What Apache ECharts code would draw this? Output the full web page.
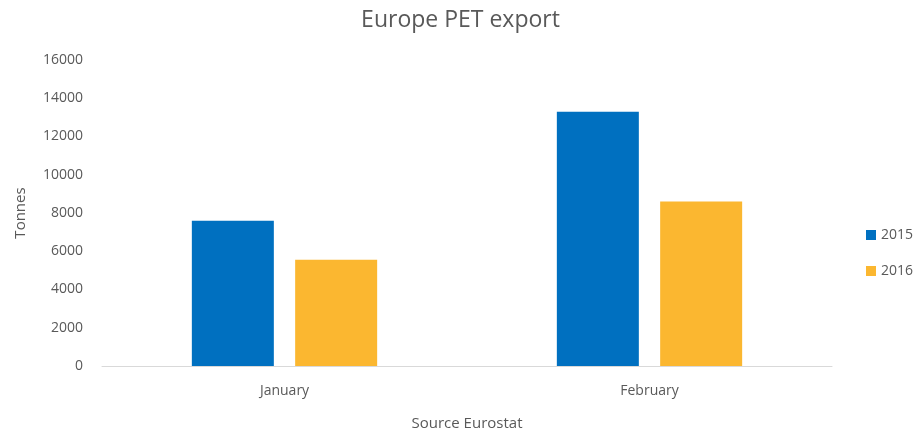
<!DOCTYPE html>
<html>
<head>
<meta charset="utf-8">
<script src="https://cdn.jsdelivr.net/npm/echarts@6/dist/echarts.min.js"></script>
<style>
  html, body { margin: 0; padding: 0; background: #fff; }
  #chart { width: 921px; height: 436px; }
</style>
</head>
<body>
<div id="chart"></div>
<script>
var months = ['January', 'February'];
var y2015 = [7600, 13300];
var y2016 = [5550, 8600];

var chart = echarts.init(document.getElementById('chart'));
var txt = '#595959';
var font = '"Open Sans", "Liberation Sans", sans-serif';

chart.setOption({
  animation: false,
  textStyle: { fontFamily: font },
  title: {
    text: 'Europe PET export',
    left: 'center',
    top: 4,
    textStyle: { fontSize: 23, fontWeight: 'normal', color: txt, fontFamily: font }
  },
  legend: {
    orient: 'vertical',
    left: 861,
    top: 223,
    itemWidth: 10,
    itemHeight: 10,
    itemGap: 22,
    icon: 'rect',
    textStyle: { fontSize: 14, color: txt },
    data: ['2015', '2016']
  },
  grid: { left: 102, right: 89, top: 60, bottom: 69 },
  xAxis: {
    type: 'category',
    data: months,
    name: 'Source Eurostat',
    nameLocation: 'middle',
    nameGap: 50,
    nameTextStyle: { fontSize: 15, color: txt },
    axisLine: { lineStyle: { color: '#d9d9d9' } },
    axisTick: { show: false },
    axisLabel: { fontSize: 14, color: txt, margin: 18 }
  },
  yAxis: {
    type: 'value',
    min: 0,
    max: 16000,
    interval: 2000,
    name: 'Tonnes',
    nameLocation: 'middle',
    nameGap: 74,
    nameTextStyle: { fontSize: 15, color: txt },
    axisLine: { show: false },
    axisTick: { show: false },
    splitLine: { show: false },
    axisLabel: {
      fontSize: 14,
      color: txt,
      margin: 19,
      formatter: function (v) { return String(v); }
    }
  },
  series: [
    {
      name: '2015',
      type: 'bar',
      data: y2015,
      barWidth: 82,
      barGap: '26%',
      itemStyle: { color: '#0070c0' }
    },
    {
      name: '2016',
      type: 'bar',
      data: y2016,
      barWidth: 82,
      itemStyle: { color: '#fbb730' }
    }
  ]
});
</script>
</body>
</html>
